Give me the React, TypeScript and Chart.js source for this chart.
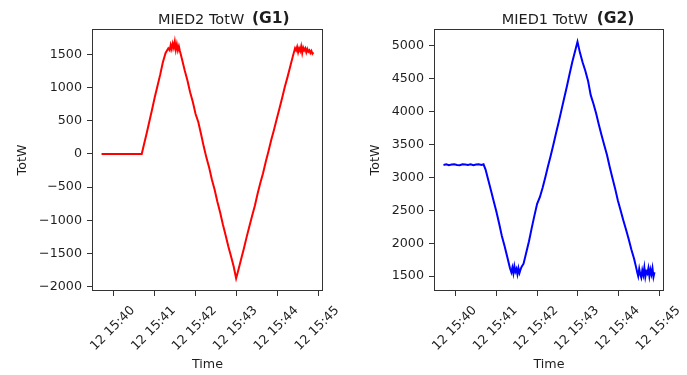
import React, { useEffect, useRef } from 'react';
import { Chart, registerables } from 'chart.js';

Chart.register(...registerables);

// Seconds after 15:00:00 (day 12)
const TIME_S = [
  2382, 2386, 2390, 2394, 2398, 2402, 2406, 2410, 2414, 2418, 2422, 2426, 2430, 2434, 2438, 2441,
  2444, 2448, 2452, 2456, 2460, 2464, 2468, 2472, 2476, 2480,
  2482, 2483.5, 2485, 2486.5, 2488, 2489.5, 2491, 2492.5, 2494, 2495.5, 2497,
  2500, 2504, 2508, 2512, 2516, 2520, 2524, 2528, 2532, 2536, 2540, 2544, 2548, 2552, 2556, 2560, 2564, 2568, 2572, 2576, 2579.5,
  2583, 2587, 2591, 2595, 2599, 2603, 2607, 2611, 2615, 2619, 2623, 2627, 2631, 2635, 2639, 2643, 2647, 2651, 2655, 2659, 2663, 2666,
  2667.5, 2669, 2670.5, 2672, 2673.5, 2675, 2676.5, 2678, 2679.5, 2681, 2682.5, 2684, 2685.5, 2687, 2688.5, 2690, 2691.5, 2693,
];

const MIED2_TOTW = [
  0, 0, 0, 0, 0, 0, 0, 0, 0, 0, 0, 0, 0, 0, 0, 0,
  130, 300, 480, 660, 850, 1020, 1190, 1380, 1520, 1590,
  1560, 1640, 1580, 1660, 1600, 1690, 1570, 1650, 1560, 1620, 1550,
  1430, 1260, 1110, 930, 780, 600, 480, 300, 110, -60, -210, -390, -540, -720, -880, -1060, -1220, -1390, -1540, -1700, -1875,
  -1740, -1580, -1420, -1250, -1090, -930, -780, -600, -440, -290, -120, 40, 210, 360, 520, 680, 840, 1010, 1160, 1320, 1480, 1590,
  1560, 1610, 1530, 1590, 1550, 1620, 1520, 1600, 1560, 1590, 1530, 1580, 1540, 1560, 1520, 1550, 1510, 1530,
];

const MIED1_TOTW = [
  3190, 3200, 3185, 3195, 3200, 3190, 3185, 3200, 3195, 3190, 3200, 3185, 3195, 3200, 3190, 3200,
  3120, 2960, 2800, 2640, 2480, 2300, 2110, 1960, 1790, 1620,
  1560, 1630, 1545, 1650, 1570, 1610, 1530, 1620, 1550, 1600, 1640,
  1690, 1860, 2030, 2230, 2420, 2600, 2700, 2840, 3000, 3170, 3330, 3500, 3680, 3850, 4030, 4210, 4390, 4580, 4760, 4920, 5060,
  4900, 4750, 4620, 4470, 4250, 4120, 3970, 3800, 3640, 3490, 3340, 3160, 2990, 2830, 2650, 2500, 2350, 2210, 2060, 1900, 1760, 1630,
  1560, 1500, 1610, 1530, 1480, 1590, 1520, 1630, 1490, 1570, 1540, 1620, 1500, 1600, 1530, 1620, 1490, 1560,
];

const X_TICKS = [2400, 2460, 2520, 2580, 2640, 2700];
const X_TICK_LABELS = ['12 15:40', '12 15:41', '12 15:42', '12 15:43', '12 15:44', '12 15:45'];

const Y1_TICKS = [-2000, -1500, -1000, -500, 0, 500, 1000, 1500];
const Y1_TICK_LABELS = ['\u22122000', '\u22121500', '\u22121000', '\u2212500', '0', '500', '1000', '1500'];

const Y2_TICKS = [1500, 2000, 2500, 3000, 3500, 4000, 4500, 5000];
const Y2_TICK_LABELS = ['1500', '2000', '2500', '3000', '3500', '4000', '4500', '5000'];

const FONT = '"DejaVu Sans", sans-serif';
const TEXT = '#1e1e1e';
const AXIS = '#333333';

const frameAndTitle = {
  id: 'frameAndTitle',
  afterDraw(chart: any, _args: any, opts: any) {
    const { ctx, chartArea: a } = chart;
    ctx.save();
    ctx.strokeStyle = AXIS;
    ctx.lineWidth = 1;
    ctx.strokeRect(Math.round(a.left) + 0.5, Math.round(a.top) + 0.5, Math.round(a.right - a.left) - 1, Math.round(a.bottom - a.top) - 1);
    ctx.fillStyle = TEXT;
    ctx.textBaseline = 'alphabetic';
    ctx.textAlign = 'left';
    ctx.font = `14.5px ${FONT}`;
    ctx.fillText(opts.title, opts.titleX, 23.5);
    ctx.font = `bold 15.5px ${FONT}`;
    ctx.fillText(opts.tag, opts.tagX, 22.5);
    ctx.restore();
  },
};

type PanelProps = {
  left: number;
  width: number;
  padRight: number;
  values: number[];
  color: string;
  yTicks: number[];
  yLabels: string[];
  yMin: number;
  yMax: number;
  yAxisWidth: number;
  yTitlePad: number;
  title: string;
  tag: string;
  titleX: number;
  tagX: number;
};

function Panel(p: PanelProps) {
  const ref = useRef<HTMLCanvasElement>(null);
  useEffect(() => {
    const tickFont = { family: FONT, size: 12.7 };
    const chart = new Chart(ref.current as HTMLCanvasElement, {
      type: 'line',
      data: {
        datasets: [
          {
            data: TIME_S.map((t, i) => ({ x: t, y: p.values[i] })),
            borderColor: p.color,
            backgroundColor: p.color,
            borderWidth: 2,
            pointRadius: 0,
            tension: 0,
            fill: false,
          },
        ],
      },
      options: {
        animation: false,
        responsive: false,
        maintainAspectRatio: false,
        layout: { padding: { left: 0, right: p.padRight, top: 29, bottom: 0 } },
        plugins: {
          legend: { display: false },
          tooltip: { enabled: false },
          title: { display: false },
          frameAndTitle: { title: p.title, tag: p.tag, titleX: p.titleX, tagX: p.tagX },
        } as any,
        scales: {
          x: {
            type: 'linear',
            min: 2368,
            max: 2707,
            afterBuildTicks: (s: any) => {
              s.ticks = X_TICKS.map((v) => ({ value: v }));
            },
            afterFit: (s: any) => {
              s.height = 84;
              s.paddingLeft = 0;
              s.paddingRight = 0;
            },
            ticks: {
              autoSkip: false,
              maxRotation: 45,
              minRotation: 45,
              padding: 7,
              labelOffset: 19,
              color: TEXT,
              font: tickFont,
              callback: (_v: any, i: number) => X_TICK_LABELS[i],
            },
            grid: { display: true, drawOnChartArea: false, drawTicks: true, tickLength: 5, color: AXIS, lineWidth: 1 },
            border: { display: false },
            title: { display: true, text: 'Time', color: TEXT, font: tickFont, padding: { top: 0, bottom: 3 } },
          },
          y: {
            type: 'linear',
            min: p.yMin,
            max: p.yMax,
            afterBuildTicks: (s: any) => {
              s.ticks = p.yTicks.map((v) => ({ value: v }));
            },
            afterFit: (s: any) => {
              s.width = p.yAxisWidth;
              s.paddingTop = 0;
              s.paddingBottom = 0;
            },
            ticks: {
              padding: 5,
              color: TEXT,
              font: tickFont,
              callback: (_v: any, i: number) => p.yLabels[i],
            },
            grid: { display: true, drawOnChartArea: false, drawTicks: true, tickLength: 5, color: AXIS, lineWidth: 1 },
            border: { display: false },
            title: { display: true, text: 'TotW', color: TEXT, font: tickFont, padding: { top: p.yTitlePad, bottom: 0 } },
          },
        },
      } as any,
      plugins: [frameAndTitle],
    });
    return () => chart.destroy();
  }, []);
  return (
    <canvas
      ref={ref}
      width={p.width}
      height={375}
      style={{ position: 'absolute', left: p.left, top: 0, width: p.width, height: 375 }}
    />
  );
}

export default function App() {
  return (
    <div style={{ position: 'absolute', left: 0, top: 0, width: 687, height: 375, background: '#ffffff', overflow: 'hidden' }}>
      <Panel
        left={0}
        width={343}
        padRight={20}
        values={MIED2_TOTW}
        color="#ff0000"
        yTicks={Y1_TICKS}
        yLabels={Y1_TICK_LABELS}
        yMin={-2065}
        yMax={1881}
        yAxisWidth={92}
        yTitlePad={14.7}
        title="MIED2 TotW"
        tag="(G1)"
        titleX={158}
        tagX={252}
      />
      <Panel
        left={343}
        width={344}
        padRight={23}
        values={MIED1_TOTW}
        color="#0000ff"
        yTicks={Y2_TICKS}
        yLabels={Y2_TICK_LABELS}
        yMin={1275}
        yMax={5255}
        yAxisWidth={91}
        yTitlePad={24.9}
        title="MIED1 TotW"
        tag="(G2)"
        titleX={158.7}
        tagX={253.7}
      />
    </div>
  );
}
